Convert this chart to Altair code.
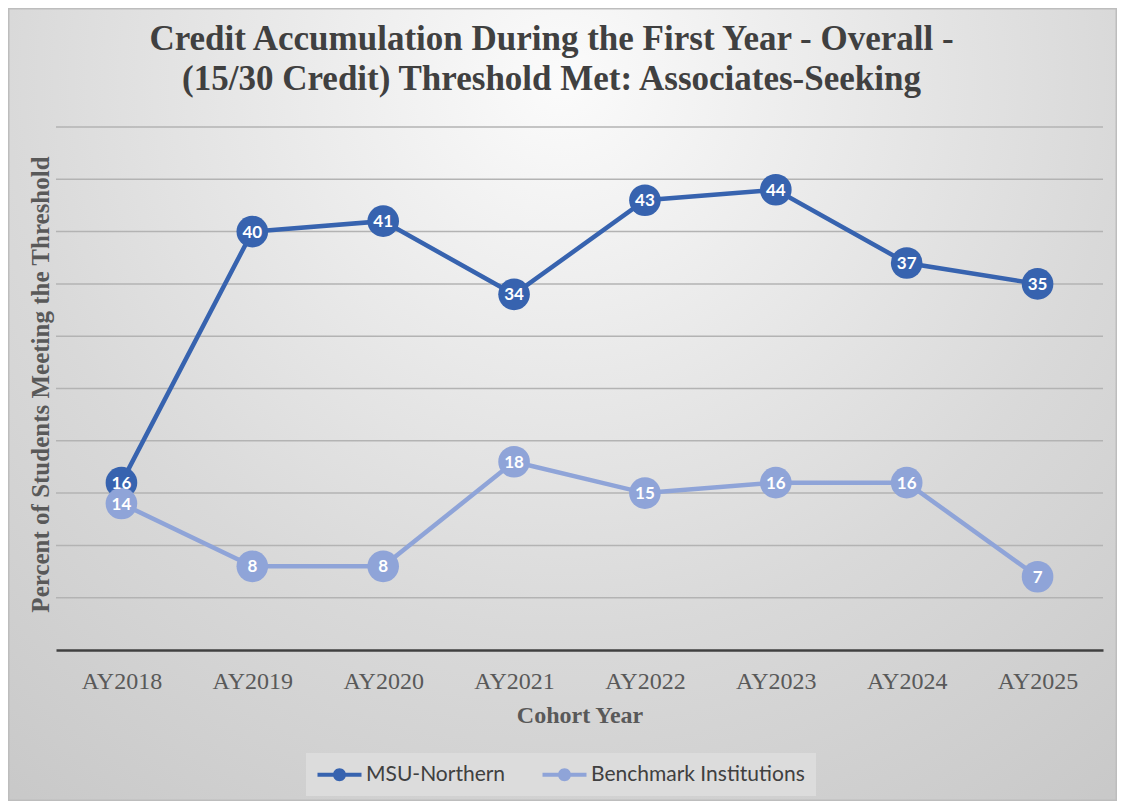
import altair as alt
import pandas as pd

years = ["AY2018", "AY2019", "AY2020", "AY2021", "AY2022", "AY2023", "AY2024", "AY2025"]
msu_values = [16, 40, 41, 34, 43, 44, 37, 35]
bench_values = [14, 8, 8, 18, 15, 16, 16, 7]
series_names = ["MSU-Northern", "Benchmark Institutions"]
series_colors = ["#3763AF", "#8FA4D8"]
grid_values = [5, 10, 15, 20, 25, 30, 35, 40, 45, 50]
title_lines = ["Credit Accumulation During the First Year - Overall -",
               "(15/30 Credit) Threshold Met: Associates-Seeking"]

rows = []
for name, vals in zip(series_names, [msu_values, bench_values]):
    for yr, v in zip(years, vals):
        rows.append({"year": yr, "series": name, "value": v})
df = pd.DataFrame(rows)
grid_df = pd.DataFrame({"g": grid_values})

W, H = 1047, 523
PL, PT, PR, PB = 48, 119, 14, 151
SERIF = "Liberation Serif"
SANS = "Lato"

ysc = alt.Scale(domain=[0, 50], nice=False, zero=True)
xsc = alt.Scale(domain=years)
csc = alt.Scale(domain=series_names, range=series_colors)

gradient = {
    "gradient": "radial",
    "x1": 0.5, "y1": 0.065, "r1": 0,
    "x2": 0.5, "y2": 0.065, "r2": 0.85,
    "stops": [
        {"offset": 0.0, "color": "#fbfbfb"},
        {"offset": 0.38, "color": "#e5e5e5"},
        {"offset": 0.59, "color": "#d9d9d9"},
        {"offset": 0.95, "color": "#c9c9c9"},
        {"offset": 1.0, "color": "#c8c8c8"},
    ],
}

one = alt.Data(values=[{"k": 0}])

bg = alt.Chart(one).mark_rect(color=gradient).encode(
    x=alt.value(-PL), x2=alt.value(W + PR),
    y=alt.value(-PT), y2=alt.value(-PT + W + PL + PR),
)
border = alt.Chart(one).mark_rect(fill="transparent", stroke="#bdbdbd", strokeWidth=1.5).encode(
    x=alt.value(-PL + 0.75), x2=alt.value(W + PR - 0.75),
    y=alt.value(-PT + 0.75), y2=alt.value(H + PB - 0.75),
)

x_axis = alt.Axis(
    title="Cohort Year", labelAngle=0, ticks=False, tickSize=0, grid=False,
    domainColor="#404040", domainWidth=2.5,
    labelFont=SERIF, labelFontSize=24, labelColor="#595959", labelPadding=19,
    titleFont=SERIF, titleFontSize=24, titleFontWeight="bold", titleColor="#595959",
    titlePadding=10, zindex=1,
)
y_axis = alt.Axis(
    title="Percent of Students Meeting the Threshold", labels=False, ticks=False,
    domain=False, grid=False,
    titleFont=SERIF, titleFontSize=25, titleFontWeight="bold", titleColor="#595959",
    titlePadding=3, titleY=257, zindex=1,
)

# legend symbol: line with a dot, drawn from the entry start (unit = 10 px)
legend_path = ("M-1,-0.2L3.4,-0.2L3.4,0.2L-1,0.2Z "
               "M0.55,0A0.65,0.65 0 1,1 1.85,0A0.65,0.65 0 1,1 0.55,0Z")
legend = alt.Legend(
    orient="none", legendX=250, legendY=626, direction="horizontal", title=None,
    symbolType=legend_path, symbolSize=400, symbolStrokeWidth=0, symbolOpacity=1,
    labelFont=SANS, labelFontSize=21, labelColor="#404040", labelOffset=28,
    columnPadding=36, padding=11, fillColor="#dcdcdc", labelLimit=400,
)

grid = alt.Chart(grid_df).mark_rule(color="#b3b3b3", strokeWidth=1.5).encode(
    y=alt.Y("g:Q", scale=ysc, axis=y_axis),
)

base = alt.Chart(df)
lines = base.mark_line(strokeWidth=4.5).encode(
    x=alt.X("year:N", sort=years, scale=xsc, axis=x_axis),
    y=alt.Y("value:Q", scale=ysc, axis=y_axis),
    color=alt.Color("series:N", scale=csc, legend=legend),
)

points = base.mark_point(filled=True, size=1000, opacity=1).encode(
    x=alt.X("year:N", sort=years, scale=xsc, axis=x_axis),
    y=alt.Y("value:Q", scale=ysc, axis=y_axis),
    color=alt.Color("series:N", scale=csc, legend=legend),
)

labels = base.mark_text(font=SANS, fontSize=17, fontWeight="bold", color="white",
                        baseline="middle", align="center", dy=1).encode(
    x=alt.X("year:N", sort=years, scale=xsc, axis=x_axis),
    y=alt.Y("value:Q", scale=ysc, axis=y_axis),
    text="value:Q",
)

chart = alt.layer(bg, border, grid, lines, points, labels).properties(
    width=W, height=H,
    padding={"left": PL, "top": PT, "right": PR, "bottom": PB},
    autosize=alt.AutoSizeParams(type="none"),
    title=alt.TitleParams(
        text=title_lines, font=SERIF, fontSize=35, fontWeight="bold", color="#404040",
        anchor="middle", frame="group", dx=-28, offset=26, dy=PT - 4, lineHeight=40,
    ),
).configure_view(stroke=None).configure_title(font=SERIF)

chart.save("out.html", embed_options={"renderer": "svg", "actions": False})
